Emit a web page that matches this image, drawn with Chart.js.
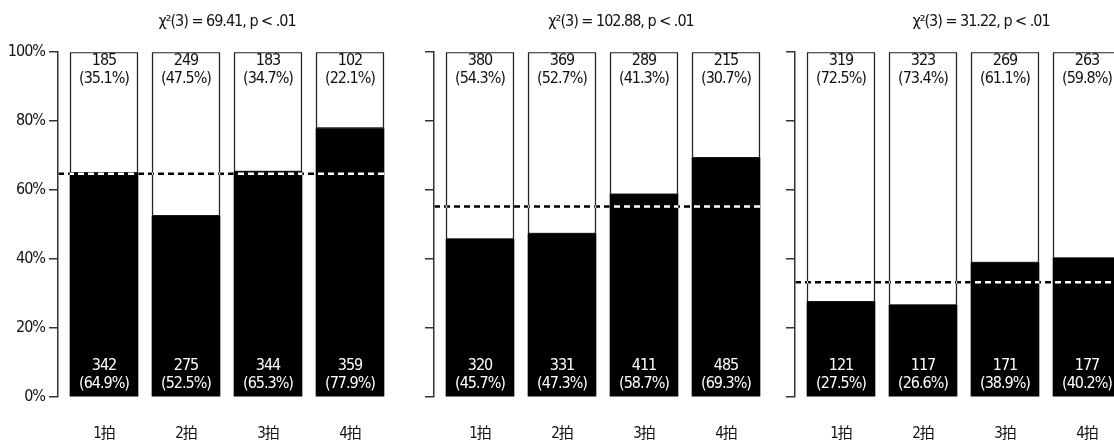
<!DOCTYPE html>
<html><head><meta charset="utf-8">
<script src="https://cdn.jsdelivr.net/npm/chart.js@4.4.0/dist/chart.umd.min.js"></script>
<style>
html,body{margin:0;padding:0;background:#fff;overflow:hidden;width:1114px;height:443px;position:relative;}
canvas{position:absolute;top:0;}
</style></head><body>
<canvas id="c1" width="454" height="443" style="left:0px"></canvas>
<canvas id="c2" width="442" height="443" style="left:400px"></canvas>
<canvas id="c3" width="440" height="443" style="left:761px"></canvas>
<script>
// ---- data ----
const categories = ['1拍', '2拍', '3拍', '4拍'];
const titles = ['χ²(3) = 69.41, p < .01', 'χ²(3) = 102.88, p < .01', 'χ²(3) = 31.22, p < .01'];
const panel1Bottom = [342, 275, 344, 359];
const panel1Top    = [185, 249, 183, 102];
const panel2Bottom = [320, 331, 411, 485];
const panel2Top    = [380, 369, 289, 215];
const panel3Bottom = [121, 117, 171, 177];
const panel3Top    = [319, 323, 269, 263];
const yTickValues  = [0, 20, 40, 60, 80, 100];

// ---- style / layout ----
const NARROW = "'Liberation Sans Narrow','DejaVu Sans Condensed',sans-serif";
const CJK = "'Liberation Sans Narrow','DejaVu Sans Condensed','Noto Sans CJK JP',sans-serif";
const PX_PER_UNIT = 82;
const X_MIN = -46 / PX_PER_UNIT;          // axis sits 46px left of first bar centre
const LINE_END = 3 + 34 / PX_PER_UNIT;     // dashed line stops at the right edge of the last bar

const panels = [
  { id: 'c1', width: 454, bottom: panel1Bottom, top: panel1Top, title: titles[0], yWidth: 58, yLabels: true },
  { id: 'c2', width: 442, bottom: panel2Bottom, top: panel2Top, title: titles[1], yWidth: 34, yLabels: false },
  { id: 'c3', width: 440, bottom: panel3Bottom, top: panel3Top, title: titles[2], yWidth: 34, yLabels: false }
];

const sum = a => a.reduce((s, v) => s + v, 0);

const whiteBg = {
  id: 'whiteBg',
  beforeDraw(chart) {
    const ctx = chart.ctx;
    ctx.fillStyle = '#fff';
    ctx.fillRect(0, 0, chart.width, chart.height);
    ctx.letterSpacing = '-1px';
  },
  afterDraw(chart) {
    chart.ctx.letterSpacing = '0px';
  }
};

const diffLine = {
  id: 'diffLine',
  beforeDatasetDraw(chart, args) {
    if (args.meta.type === 'line') {
      chart.ctx.save();
      chart.ctx.globalCompositeOperation = 'difference';
    }
  },
  afterDatasetDraw(chart, args) {
    if (args.meta.type === 'line') chart.ctx.restore();
  }
};

const barLabels = {
  id: 'barLabels',
  afterDatasetsDraw(chart) {
    const ctx = chart.ctx;
    const bottomCounts = chart.data.datasets[0].counts;
    const topCounts = chart.data.datasets[1].counts;
    ctx.save();
    ctx.letterSpacing = '-1px';
    ctx.font = '16px ' + NARROW;
    ctx.textAlign = 'center';
    ctx.textBaseline = 'middle';
    chart.getDatasetMeta(0).data.forEach((el, i) => {
      const pct = bottomCounts[i] / (bottomCounts[i] + topCounts[i]) * 100;
      ctx.fillStyle = '#fff';
      ctx.fillText(String(bottomCounts[i]), el.x, el.base - 30);
      ctx.fillText('(' + pct.toFixed(1) + '%)', el.x, el.base - 12);
    });
    chart.getDatasetMeta(1).data.forEach((el, i) => {
      const pct = topCounts[i] / (bottomCounts[i] + topCounts[i]) * 100;
      ctx.fillStyle = '#111';
      ctx.fillText(String(topCounts[i]), el.x, el.y + 9);
      ctx.fillText('(' + pct.toFixed(1) + '%)', el.x, el.y + 27);
    });
    ctx.restore();
  }
};

panels.forEach(p => {
  const totals = p.bottom.map((v, i) => v + p.top[i]);
  const overall = sum(p.bottom) / sum(totals) * 100;
  const xMax = X_MIN + (p.width - p.yWidth) / PX_PER_UNIT;
  new Chart(document.getElementById(p.id), {
    type: 'bar',
    data: {
      datasets: [
        {
          counts: p.bottom,
          data: p.bottom.map((v, i) => ({ x: i, y: v / totals[i] * 100 })),
          backgroundColor: '#000',
          borderColor: '#000',
          borderWidth: 0,
          barThickness: 68,
          order: 1
        },
        {
          counts: p.top,
          data: p.top.map((v, i) => ({ x: i, y: v / totals[i] * 100 })),
          backgroundColor: '#fff',
          borderColor: '#222',
          borderWidth: 1.5,
          borderSkipped: false,
          barThickness: 68,
          order: 1
        },
        {
          type: 'line',
          stack: 'ref',
          data: [{ x: X_MIN, y: overall }, { x: LINE_END, y: overall }],
          borderColor: '#fff',
          borderWidth: 2.5,
          borderDash: [6, 4],
          pointRadius: 0,
          fill: false,
          order: 0
        }
      ]
    },
    options: {
      responsive: false,
      animation: false,
      layout: { padding: 0 },
      plugins: {
        legend: { display: false },
        tooltip: { enabled: false },
        title: {
          display: true,
          text: p.title,
          color: '#111',
          font: { family: NARROW, size: 16, weight: 'normal' },
          padding: { top: 12, bottom: 21 }
        }
      },
      scales: {
        x: {
          type: 'linear',
          min: X_MIN,
          max: xMax,
          offset: false,
          stacked: true,
          grid: { display: false, drawTicks: false, offset: false },
          border: { display: false },
          afterBuildTicks: s => { s.ticks = categories.map((c, i) => ({ value: i })); },
          afterFit: s => { s.height = 46; },
          ticks: {
            autoSkip: false,
            maxRotation: 0,
            padding: 28,
            color: '#111',
            font: { family: CJK, size: 15 },
            callback: v => categories[Math.round(v)]
          }
        },
        y: {
          type: 'linear',
          min: 0,
          max: 100,
          stacked: true,
          afterBuildTicks: s => { s.ticks = yTickValues.map(v => ({ value: v })); },
          afterFit: s => { s.width = p.yWidth; },
          grid: { drawOnChartArea: false, drawTicks: true, tickLength: 9, color: '#333', lineWidth: 1.5 },
          border: { display: true, color: '#333', width: 1.5 },
          ticks: {
            padding: 4,
            color: p.yLabels ? '#111' : 'rgba(0,0,0,0)',
            font: { family: NARROW, size: 16 },
            callback: v => v + '%'
          }
        }
      }
    },
    plugins: [whiteBg, diffLine, barLabels]
  });
});
</script>
</body></html>
